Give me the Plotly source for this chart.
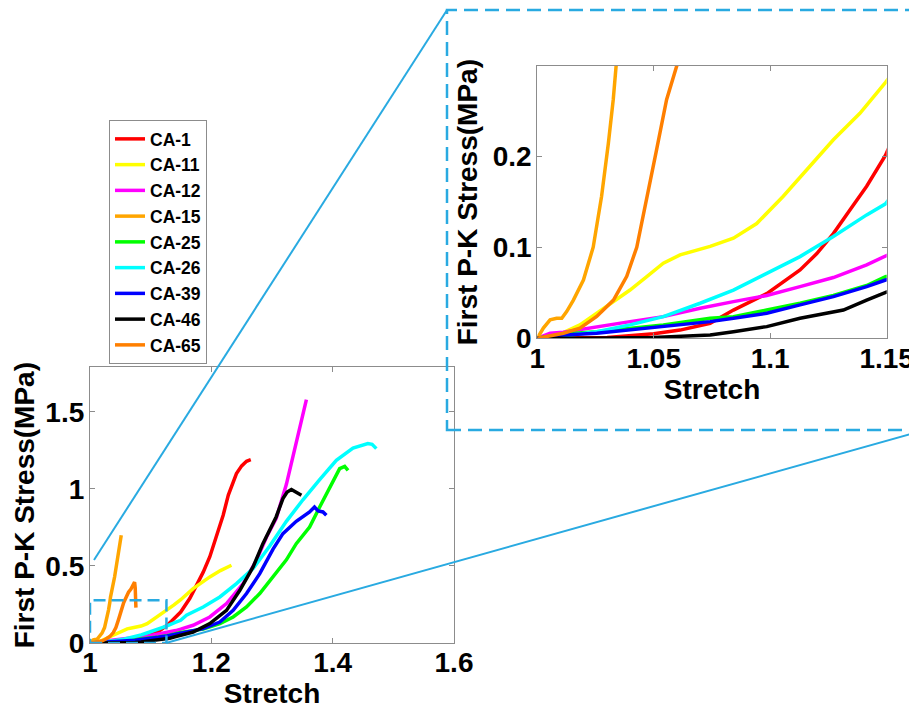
import plotly.graph_objects as go

W, H = 917, 707
OFF = 8  # the page body offsets the figure by 8px
FONT = "Liberation Sans, Arial, sans-serif"

names = ["CA-1", "CA-11", "CA-12", "CA-15", "CA-25", "CA-26", "CA-39", "CA-46", "CA-65"]
colors = ["#FF0000", "#FFFF00", "#FF00FF", "#FFA500", "#00FF00",
          "#00FFFF", "#0000FF", "#000000", "#FF7F00"]

ca1_x = [1.0, 1.03, 1.05, 1.0613, 1.0742, 1.0842, 1.0985, 1.1128, 1.12, 1.1271, 1.1342,
         1.1414, 1.1495, 1.1646, 1.1756, 1.1866, 1.1975, 1.2085, 1.2195, 1.228, 1.236,
         1.2414, 1.25, 1.258, 1.265]
ca1_y = [0, 0.001, 0.005, 0.009, 0.0165, 0.031, 0.049, 0.075, 0.093, 0.115, 0.141,
         0.167, 0.201, 0.29, 0.37, 0.46, 0.56, 0.69, 0.83, 0.96, 1.05, 1.10, 1.15, 1.18, 1.19]

ca11_x = [1.0, 1.01, 1.0183, 1.0255, 1.0327, 1.0398, 1.047, 1.0541, 1.0613, 1.0684,
          1.0742, 1.0842, 1.0942, 1.1056, 1.117, 1.1271, 1.1385, 1.1495, 1.17, 1.1975,
          1.215, 1.2332]
ca11_y = [0, 0.005, 0.0147, 0.0275, 0.0403, 0.053, 0.0678, 0.0824, 0.0916, 0.097,
          0.101, 0.110, 0.126, 0.156, 0.189, 0.218, 0.247, 0.281, 0.353, 0.429, 0.47, 0.505]

ca12_x = [1.0, 1.0055, 1.0112, 1.0255, 1.0398, 1.0541, 1.0699, 1.0842, 1.0985, 1.1128,
          1.1271, 1.1414, 1.1495, 1.170, 1.1975, 1.225, 1.2524, 1.2744, 1.291, 1.307,
          1.3237, 1.340, 1.3567]
ca12_y = [0, 0.0055, 0.0066, 0.0128, 0.0183, 0.0238, 0.033, 0.0403, 0.047, 0.0567,
          0.0667, 0.0806, 0.0897, 0.115, 0.169, 0.256, 0.386, 0.537, 0.688, 0.81,
          1.03, 1.31, 1.58]

ca15_x = [1.0, 1.0026, 1.0055, 1.0083, 1.0105, 1.0126, 1.0155, 1.0198, 1.024, 1.0276,
          1.0305, 1.0326, 1.0338, 1.0406, 1.046, 1.049, 1.0515]
ca15_y = [0, 0.0113, 0.0202, 0.022, 0.022, 0.0293, 0.042, 0.064, 0.10, 0.156,
          0.214, 0.262, 0.298, 0.43, 0.55, 0.62, 0.70]

ca25_x = [1.0, 1.0112, 1.0255, 1.0398, 1.0541, 1.0742, 1.0842, 1.0985, 1.1128, 1.1271,
          1.1414, 1.1495, 1.1866, 1.214, 1.236, 1.258, 1.2798, 1.3017, 1.3237, 1.340,
          1.362, 1.3786, 1.395, 1.4115, 1.4198, 1.4253]
ca25_y = [0, 0.0047, 0.0073, 0.011, 0.0147, 0.022, 0.0238, 0.031, 0.0385, 0.047,
          0.058, 0.0678, 0.09, 0.126, 0.169, 0.234, 0.321, 0.429, 0.54, 0.645,
          0.753, 0.883, 1.013, 1.132, 1.147, 1.121]

ca26_x = [1.0, 1.0112, 1.0255, 1.0398, 1.0541, 1.064, 1.0699, 1.0842, 1.0985, 1.1128,
          1.1271, 1.1414, 1.1495, 1.159, 1.1866, 1.214, 1.2414, 1.2688, 1.2963, 1.3237,
          1.351, 1.3786, 1.406, 1.4335, 1.458, 1.465, 1.472]
ca26_y = [0, 0.0026, 0.0073, 0.0147, 0.0238, 0.033, 0.0385, 0.053, 0.0714, 0.0897,
          0.1117, 0.1355, 0.1476, 0.18, 0.234, 0.299, 0.386, 0.483, 0.63, 0.79,
          0.93, 1.06, 1.186, 1.265, 1.295, 1.29, 1.262]

ca39_x = [1.0, 1.0112, 1.0255, 1.0398, 1.0541, 1.0742, 1.0842, 1.0985, 1.1128, 1.1271,
          1.1414, 1.1495, 1.159, 1.1866, 1.214, 1.236, 1.258, 1.2798, 1.3017, 1.318,
          1.340, 1.362, 1.370, 1.376, 1.384, 1.3896]
ca39_y = [0, 0.0037, 0.0055, 0.0092, 0.0128, 0.0183, 0.022, 0.0275, 0.0367, 0.0458,
          0.0568, 0.064, 0.07, 0.0935, 0.136, 0.212, 0.321, 0.45, 0.61, 0.71,
          0.79, 0.851, 0.883, 0.857, 0.851, 0.829]

ca46_x = [1.0, 1.02, 1.05, 1.0742, 1.0842, 1.0985, 1.1128, 1.1271, 1.1314, 1.1414,
          1.1495, 1.170, 1.1975, 1.225, 1.247, 1.2688, 1.285, 1.2963, 1.307, 1.318,
          1.325, 1.332, 1.34, 1.3485]
ca46_y = [0, 0, 0.001, 0.0037, 0.0073, 0.0128, 0.022, 0.0293, 0.031, 0.042,
          0.051, 0.0714, 0.126, 0.212, 0.342, 0.494, 0.645, 0.73, 0.82, 0.938,
          0.98, 0.996, 0.98, 0.959]

ca65_x = [1.0, 1.0112, 1.0183, 1.0255, 1.0327, 1.0384, 1.0427, 1.047, 1.0512, 1.0555,
          1.0598, 1.0635, 1.0675, 1.0715, 1.0735, 1.0745, 1.0752, 1.0757]
ca65_y = [0, 0.0055, 0.011, 0.024, 0.042, 0.068, 0.10, 0.152, 0.207, 0.262,
          0.298, 0.33, 0.35, 0.385, 0.395, 0.36, 0.30, 0.23]

series_x = [ca1_x, ca11_x, ca12_x, ca15_x, ca25_x, ca26_x, ca39_x, ca46_x, ca65_x]
series_y = [ca1_y, ca11_y, ca12_y, ca15_y, ca25_y, ca26_y, ca39_y, ca46_y, ca65_y]

main_xticks = [1, 1.2, 1.4, 1.6]
main_yticks = [0, 0.5, 1, 1.5]
inset_xticks = [1, 1.05, 1.1, 1.15]
inset_yticks = [0, 0.1, 0.2]
main_xrange = [1, 1.6]
main_yrange = [0, 1.79]
inset_xrange = [1, 1.15]
inset_yrange = [0, 0.299]
zoom_box_x = [1, 1.126]
zoom_box_y = [0, 0.277]


def px(x):
    return (x - OFF) / W


def py(y):
    return 1 - (y - OFF) / H


fig = go.Figure()
for nm, c, xs, ys in zip(names, colors, series_x, series_y):
    fig.add_trace(go.Scatter(x=xs, y=ys, mode="lines", name=nm,
                             line=dict(color=c, width=3.5), xaxis="x", yaxis="y"))
# inset: loading branch (up to the peak stress) of each test
for nm, c, xs, ys in zip(names, colors, series_x, series_y):
    k = ys.index(max(ys)) + 1
    fig.add_trace(go.Scatter(x=xs[:k], y=ys[:k], mode="lines", name=nm, showlegend=False,
                             line=dict(color=c, width=3.5), xaxis="x2", yaxis="y2"))

tickf = dict(family=FONT, size=28, color="black", weight="bold")
titlef = dict(family=FONT, size=28, color="black", weight="bold")
frame = "#8c8c8c"
common = dict(showline=True, mirror="ticks", linecolor=frame, linewidth=1.2,
              ticks="inside", ticklen=5, tickcolor=frame, showgrid=False,
              zeroline=False, tickfont=tickf, automargin=False)

fig.update_layout(
    template="plotly_white",
    width=W, height=H,
    margin=dict(l=0, r=0, t=0, b=0, autoexpand=False),
    paper_bgcolor="white", plot_bgcolor="white",
    xaxis=dict(domain=[px(90), px(454)], range=main_xrange, tickvals=main_xticks,
               ticktext=["1", "1.2", "1.4", "1.6"], anchor="y", ticklabelstandoff=-6,
               title=dict(text="Stretch", font=titlef, standoff=0), **common),
    yaxis=dict(domain=[py(643), py(367.3)], range=main_yrange, tickvals=main_yticks,
               ticktext=["0", "0.5", "1", "1.5"], anchor="x", ticklabelstandoff=-1,
               title=dict(text="First P-K Stress(MPa)", font=titlef, standoff=2), **common),
    xaxis2=dict(domain=[px(537.3), px(886.7)], range=inset_xrange, tickvals=inset_xticks,
                ticktext=["1", "1.05", "1.1", "1.15"], anchor="y2", ticklabelstandoff=-5,
                title=dict(text="Stretch", font=titlef, standoff=0), **common),
    yaxis2=dict(domain=[py(338.3), py(66)], range=inset_yrange, tickvals=inset_yticks,
                ticktext=["0", "0.1", "0.2"], anchor="x2", ticklabelstandoff=-1,
                title=dict(text="First P-K Stress(MPa)", font=titlef, standoff=6), **common),
    legend=dict(x=px(109), y=py(120), xanchor="left", yanchor="top",
                bgcolor="white", bordercolor=frame, borderwidth=1,
                font=dict(family=FONT, size=17.5, color="black", weight="bold"),
                tracegroupgap=0, itemwidth=30),
    showlegend=True,
)

blue = "#29AAE1"
shapes = [
    dict(type="rect", xref="x", yref="y", x0=zoom_box_x[0], x1=zoom_box_x[1],
         y0=zoom_box_y[0], y1=zoom_box_y[1],
         line=dict(color=blue, width=2.5, dash="12px,6px")),
    dict(type="rect", xref="paper", yref="paper", x0=px(447), x1=px(935),
         y0=py(430), y1=py(10), line=dict(color=blue, width=2.5, dash="14px,7px")),
    dict(type="line", xref="paper", yref="paper", x0=px(94), y0=py(560),
         x1=px(447), y1=py(10), line=dict(color=blue, width=2)),
    dict(type="line", xref="paper", yref="paper", x0=px(166), y0=py(643),
         x1=px(925), y1=py(430), line=dict(color=blue, width=2)),
]
fig.update_layout(shapes=shapes)

fig.write_html("out.html")
